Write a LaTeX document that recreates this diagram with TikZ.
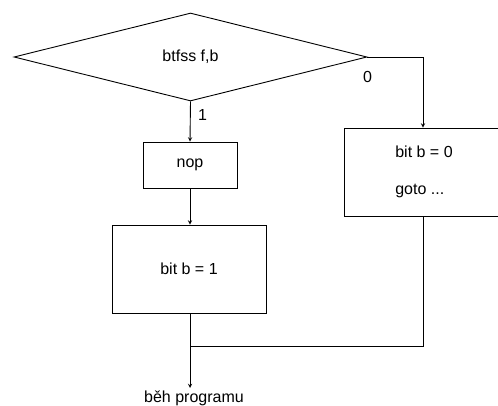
\documentclass[tikz,border=0pt]{standalone}
\usepackage{fontspec}
\setmainfont{Liberation Sans}
\usetikzlibrary{shapes.geometric}
\begin{document}
\begin{tikzpicture}[->, >=stealth, x=1pt, y=-1pt, line width=0.9pt,
                    font=\fontsize{16}{19}\selectfont,
                    test node/.style={diamond,draw,inner sep=0pt,minimum width=353pt,minimum height=88pt},
                    box node/.style={rectangle,draw,inner sep=0pt}]
  \useasboundingbox (0,0) rectangle (498,406);
  \node[test node] (test) at (190.5,57) {\raisebox{-6pt}{btfss f,b}};
  \node[box node,minimum width=94pt,minimum height=46pt] (nop) at (190,165) {nop};
  \node[box node,minimum width=154pt,minimum height=88pt] (bit1) at (189,269) {bit b = 1};
  \node[box node,minimum width=164pt,minimum height=88pt,align=left] (bit0) at (426,172)
    {\hspace*{-4pt}bit b = 0\\[18pt]\hspace*{-4pt}goto ...};
  \coordinate (col) at (423,0);
  \coordinate (join) at (190,346);
  \coordinate (end) at (190,388);
  \node (run) at (194,398) {běh programu};

  \path
    (test.south) edge node[right,pos=0.35,xshift=4pt] {1} (nop.north)
    (nop) edge (nop.south |- bit1.north);
  \draw (test.east) -- node[pos=0,below=11pt] {0} (test.east -| col) -- (bit0.north -| col);
  \draw (bit1.south -| join) -- (end);
  \draw[-] (bit0.south -| col) |- (join);
\end{tikzpicture}
\end{document}
